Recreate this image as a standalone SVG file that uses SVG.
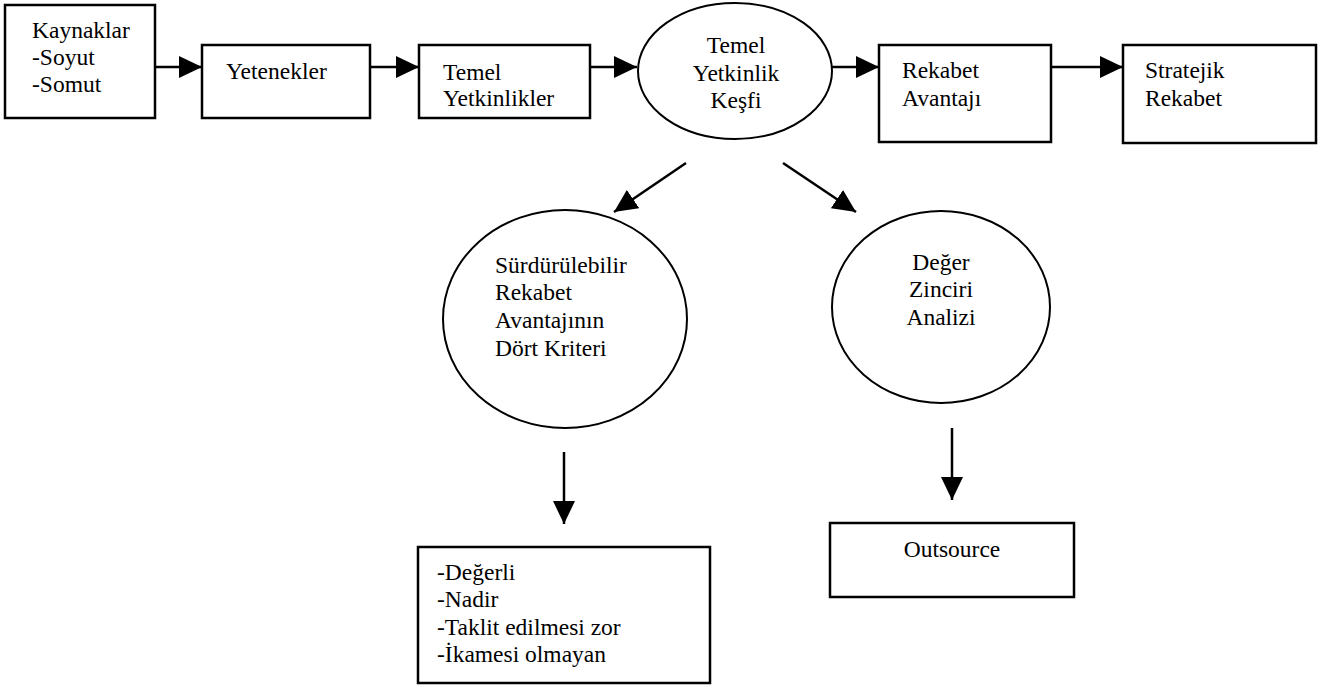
<svg xmlns="http://www.w3.org/2000/svg" width="1318" height="698" viewBox="0 0 1318 698">
  <style>
    .shape { fill: #fff; stroke: #000; stroke-width: 2.5; }
    .oval { fill: #fff; stroke: #000; stroke-width: 2; }
    text { font-family: 'Liberation Serif', 'DejaVu Serif', serif; font-size: 23.5px; fill: #000; }
    .mid { text-anchor: middle; }
    .link { stroke: #000; stroke-width: 2.5; fill: none; marker-end: url(#head); }
  </style>
  <defs>
    <marker id="head" markerUnits="userSpaceOnUse" markerWidth="23" markerHeight="22" refX="23" refY="11" orient="auto">
      <path d="M0,0 L23,11 L0,22 z" fill="#000"/>
    </marker>
  </defs>
  <rect width="1318" height="698" fill="#fff"/>

  <g id="connectors">
    <line class="link" x1="155" y1="67" x2="202" y2="67"/>
    <line class="link" x1="370" y1="67" x2="419" y2="67"/>
    <line class="link" x1="590" y1="67" x2="637" y2="67"/>
    <line class="link" x1="832" y1="67" x2="879" y2="67"/>
    <line class="link" x1="1051" y1="67" x2="1123" y2="67"/>
    <line class="link" x1="686" y1="163" x2="614" y2="212"/>
    <line class="link" x1="783" y1="163" x2="856" y2="212"/>
    <line class="link" x1="564" y1="452" x2="564" y2="524"/>
    <line class="link" x1="952" y1="428" x2="952" y2="500"/>
  </g>

  <g id="kaynaklar" font-family="Liberation Serif, serif">
    <rect class="shape" x="5" y="5" width="150" height="113"/>
    <text x="32" y="38">Kaynaklar</text>
    <text x="32" y="65">-Soyut</text>
    <text x="32" y="92">-Somut</text>
  </g>

  <g id="yetenekler">
    <rect class="shape" x="202" y="45" width="168" height="73"/>
    <text x="226" y="79">Yetenekler</text>
  </g>

  <g id="temel-yetkinlikler">
    <rect class="shape" x="419" y="45" width="171" height="73"/>
    <text x="443" y="80">Temel</text>
    <text x="443" y="106">Yetkinlikler</text>
  </g>

  <g id="yetkinlik-kesfi">
    <ellipse class="oval" cx="735" cy="71" rx="97" ry="68"/>
    <text class="mid" x="736" y="53">Temel</text>
    <text class="mid" x="736" y="81">Yetkinlik</text>
    <text class="mid" x="736" y="108">Keşfi</text>
  </g>

  <g id="rekabet-avantaji">
    <rect class="shape" x="879" y="45" width="172" height="97"/>
    <text x="902" y="78">Rekabet</text>
    <text x="902" y="106">Avantajı</text>
  </g>

  <g id="stratejik-rekabet">
    <rect class="shape" x="1123" y="45" width="193" height="98"/>
    <text x="1145" y="78">Stratejik</text>
    <text x="1145" y="106">Rekabet</text>
  </g>

  <g id="dort-kriter">
    <ellipse class="oval" cx="565" cy="319" rx="122" ry="109"/>
    <text x="495" y="273">Sürdürülebilir</text>
    <text x="495" y="300">Rekabet</text>
    <text x="495" y="328">Avantajının</text>
    <text x="495" y="356">Dört Kriteri</text>
  </g>

  <g id="deger-zinciri">
    <ellipse class="oval" cx="941" cy="307" rx="109" ry="96"/>
    <text class="mid" x="941" y="270">Değer</text>
    <text class="mid" x="941" y="297">Zinciri</text>
    <text class="mid" x="941" y="325">Analizi</text>
  </g>

  <g id="kriterler">
    <rect class="shape" x="418" y="547" width="292" height="136"/>
    <text x="437" y="580">-Değerli</text>
    <text x="437" y="607">-Nadir</text>
    <text x="437" y="635">-Taklit edilmesi zor</text>
    <text x="437" y="662">-İkamesi olmayan</text>
  </g>

  <g id="outsource">
    <rect class="shape" x="830" y="523" width="244" height="74"/>
    <text class="mid" x="952" y="557">Outsource</text>
  </g>
</svg>
